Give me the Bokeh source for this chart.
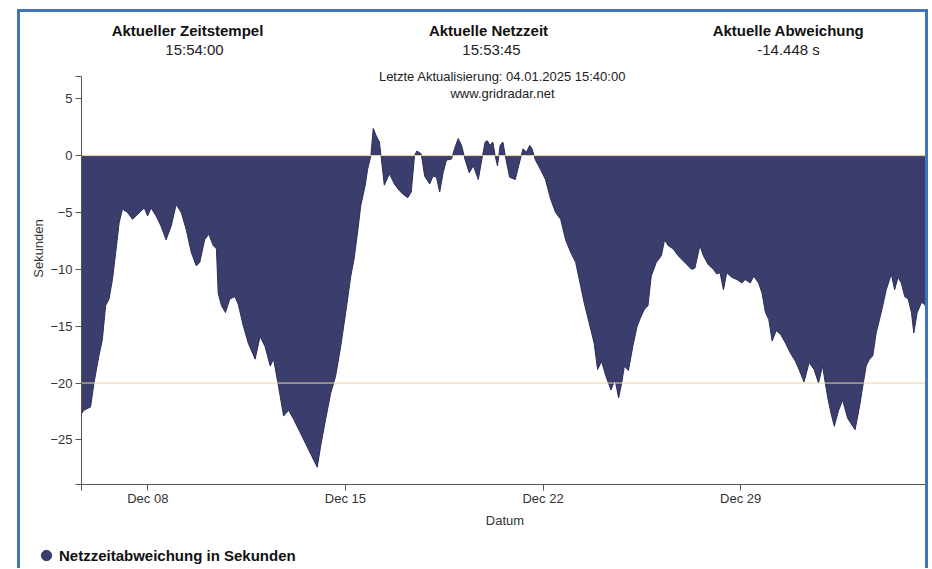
import pandas as pd
from bokeh.plotting import figure
from bokeh.layouts import column
from bokeh.models import (Range1d, FixedTicker, DatetimeTickFormatter, Label, Span,
                          Legend, LegendItem, ColumnDataSource)
from bokeh.embed import file_html
from bokeh.resources import INLINE

# ---------------- data ----------------
START = "2024-12-05 15:40"
END = "2025-01-04 15:40"

# hours after START
hours = [
    0, 2.0, 7.7, 10.6, 14.8, 17.7, 20.5, 23.4, 26.3, 29.1, 32.0, 34.8, 39.1, 43.4,
    46.2, 50.5, 53.4, 56.2, 59.1, 63.4, 67.6, 71.9, 76.2, 80.5, 84.8, 89.0, 93.3,
    97.6, 100.5, 104.7, 108.2, 111.9, 114.7, 116.2, 119.0, 122.4, 126.1, 130.4,
    133.3, 137.6, 141.8, 147.6, 151.8, 156.1, 160.4, 163.3, 167.5, 171.8, 176.1,
    180.4, 184.7, 190.4, 196.1, 200.4, 203.2, 207.5, 211.8, 216.0, 220.3, 224.6,
    228.9, 231.7, 234.6, 237.4, 241.2, 243.2, 246.0, 248.0, 250.3, 253.2, 254.6,
    257.4, 261.7, 266.0, 270.3, 274.6, 277.4, 280.3, 283.1, 285.1, 288.8, 291.7,
    296.0, 298.8, 301.7, 304.5, 307.4, 310.2, 314.5, 317.4, 320.2, 323.1, 325.9,
    329.6, 333.1, 337.3, 340.2, 343.1, 345.0, 347.3, 349.6, 351.6, 353.6, 355.9,
    358.2, 360.2, 363.9, 368.7, 371.6, 375.3, 378.2, 381.0, 383.0, 385.9, 390.1,
    394.4, 398.7, 403.0, 407.3, 411.5, 415.8, 420.1, 424.4, 427.2, 431.5, 435.8,
    438.7, 442.1, 445.8, 450.1, 453.5, 456.6, 459.2, 461.5, 464.9, 468.6, 472.3,
    475.8, 478.6, 481.5, 484.3, 488.6, 492.9, 495.7, 498.6, 502.9, 507.2, 512.9,
    518.6, 521.4, 525.7, 528.6, 532.8, 537.1, 540.0, 542.8, 545.7, 548.5, 552.8,
    557.1, 561.4, 564.2, 568.5, 571.4, 575.6, 578.5, 581.4, 584.2, 587.1, 590.5,
    594.2, 598.5, 602.8, 607.0, 609.9, 614.2, 618.5, 622.7, 626.5, 629.9, 634.2,
    637.0, 639.9, 643.6, 647.0, 651.3, 655.0, 657.6, 661.3, 664.1, 667.0, 669.8,
    672.7, 675.5, 679.8, 684.1, 688.4, 691.2, 694.1, 696.9, 699.8, 702.7, 705.5,
    707.5, 710.4, 714.1, 716.9, 719.8, 720.0,
]

# grid time deviation in seconds
seconds = [
    -22.7, -22.4, -22.1, -20.0, -17.6, -16.2, -13.2, -12.6, -10.9, -8.5, -5.9, -4.7, -5.0, -5.6,
    -5.3, -4.9, -4.6, -5.3, -4.6, -5.3, -6.2, -7.4, -6.2, -4.3, -5.0, -6.5, -8.5,
    -9.7, -9.4, -7.4, -6.9, -7.9, -8.2, -12.1, -13.2, -13.8, -12.6, -12.4,
    -13.1, -15.0, -16.5, -17.9, -15.9, -16.8, -18.5, -17.9, -20.3, -22.9, -22.4,
    -23.2, -24.1, -25.3, -26.5, -27.4, -25.6, -23.2, -20.9, -19.4, -16.8, -13.8,
    -10.6, -9.1, -6.8, -4.4, -2.6, -1.2, 0.0, 2.4, 1.8, 1.2, 0.0,
    -2.6, -1.6, -2.5, -3.1, -3.5, -3.7, -3.2, 0.0, 0.4, 0.15, -1.8,
    -2.5, -1.8, -1.9, -3.2, -1.5, -0.4, -0.3, 0.7, 1.5, 0.9, -0.3,
    -1.5, -0.9, -2.1, -0.4, 1.2, 1.3, 0.9, 1.2, 0.0, -0.9, 0.9,
    1.2, 0.0, -1.9, -2.1, -0.9, 0.6, 0.3, 0.9, 0.6, -0.4, -1.2,
    -2.1, -3.8, -5.0, -5.6, -7.4, -8.5, -9.4, -11.5, -12.9, -14.7, -16.5,
    -18.8, -18.1, -19.4, -20.6, -19.7, -21.3, -20.0, -18.5, -18.9, -16.8, -15.0,
    -14.1, -13.5, -13.2, -10.6, -9.4, -8.8, -7.4, -7.9, -8.2, -8.8, -9.4,
    -10.0, -9.9, -7.9, -8.8, -9.6, -10.0, -10.4, -10.3, -11.8, -10.3, -10.7,
    -10.9, -11.2, -10.9, -11.2, -10.6, -11.2, -12.1, -13.8, -14.4, -16.3, -15.4,
    -15.7, -16.5, -17.4, -18.1, -18.8, -19.9, -18.2, -18.8, -20.0, -18.5, -21.2,
    -22.6, -23.8, -22.4, -21.5, -23.1, -23.7, -24.1, -22.1, -20.3, -18.5, -17.9,
    -17.6, -15.6, -13.8, -11.8, -10.4, -11.8, -10.7, -11.2, -12.4, -12.6, -13.8,
    -15.6, -13.8, -12.9, -13.1, -14.1, -14.4,
]

x_tick_dates = ["2024-12-08", "2024-12-15", "2024-12-22", "2024-12-29"]
y_tick_values = [5, 0, -5, -10, -15, -20, -25]
y_limits = (-28.92, 6.92)
ref_levels = [0, -20]

header_titles = ["Aktueller Zeitstempel", "Aktuelle Netzzeit", "Aktuelle Abweichung"]
header_values = ["15:54:00", "15:53:45", "-14.448 s"]
update_text = "Letzte Aktualisierung: 04.01.2025 15:40:00"
site_text = "www.gridradar.net"
series_name = "Netzzeitabweichung in Sekunden"
x_label = "Datum"
y_label = "Sekunden"

# ---------------- styles / layout ----------------
FONT = "Liberation Sans"
NAVY = "#3b3e6c"
EDGE = "#2b2e5a"
REF = "#e8d3a6"
AXIS = "#555555"
FRAME_BLUE = "#4074b8"
BORDER = f"3px solid {FRAME_BLUE}"

AXIS_PX = 405          # pixel height of the y-axis span
HEADER_PX = 64         # extra frame space above the y-axis for header texts
px_per_unit = AXIS_PX / (y_limits[1] - y_limits[0])
y_top = y_limits[1] + HEADER_PX / px_per_unit

t0 = pd.Timestamp(START)
t1 = pd.Timestamp(END)
times = [t0 + pd.Timedelta(hours=h) for h in hours]
src = ColumnDataSource(dict(t=times, v=seconds))


def ms(ts):
    return pd.Timestamp(ts).value / 1e6


p = figure(
    width=911, height=527,
    x_axis_type="datetime",
    x_range=Range1d(t0, t1),
    y_range=Range1d(y_limits[0], y_top),
    output_backend="svg", toolbar_location=None,
    min_border_left=61, min_border_right=3, min_border_top=0, min_border_bottom=55,
    styles={"margin-left": "17px", "margin-top": "9px",
            "border-top": BORDER, "border-left": BORDER, "border-right": BORDER},
)
p.frame_align = False
p.outline_line_color = None
p.xgrid.visible = False
p.ygrid.visible = False
p.background_fill_color = "white"
p.border_fill_color = "white"

p.varea(x="t", y1=0, y2="v", source=src, fill_color=NAVY)
p.line(x="t", y="v", source=src, line_color=EDGE, line_width=1)

for lvl in ref_levels:
    p.add_layout(Span(location=lvl, dimension="width", line_color=REF, line_width=1))

# axes
x_ticks = [ms(t0)] + [ms(d) for d in x_tick_dates] + [ms(t1)]
p.xaxis.ticker = FixedTicker(ticks=x_ticks)
fmt = "%b %d"
p.xaxis.formatter = DatetimeTickFormatter(
    microseconds=fmt, milliseconds=fmt, seconds=fmt, minsec=fmt, minutes=fmt,
    hourmin=fmt, hours=fmt, days=fmt, months=fmt, years=fmt)
p.xaxis.major_label_overrides = {ms(t0): "", ms(t1): ""}

y_ticks = [y_limits[1]] + y_tick_values + [y_limits[0]]
p.yaxis.ticker = FixedTicker(ticks=y_ticks)
p.yaxis.major_label_overrides = {y_limits[1]: "", y_limits[0]: ""}
p.yaxis.bounds = y_limits

for ax in (p.xaxis, p.yaxis):
    ax.axis_line_color = AXIS
    ax.major_tick_line_color = AXIS
    ax.minor_tick_line_color = None
    ax.major_tick_in = 0
    ax.major_tick_out = 6
    ax.major_label_text_font = FONT
    ax.major_label_text_font_size = "13px"
    ax.major_label_text_color = "#333333"
    ax.axis_label_text_font = FONT
    ax.axis_label_text_font_size = "13px"
    ax.axis_label_text_font_style = "normal"
    ax.axis_label_text_color = "#333333"

p.xaxis.major_label_standoff = 0
p.yaxis.major_label_standoff = 3
p.xaxis.axis_label = x_label
p.xaxis.axis_label_standoff = 4
p.yaxis.axis_label = y_label
p.yaxis.axis_label_standoff = 1

# header texts (screen units relative to plot frame's bottom-left, y up)
title_pos = [(106, 454), (113, 435.5)]
title_pos = [(106, 454), (407, 454), (707, 454)]
value_pos = [(113, 435.5), (410, 435.5), (707, 435.5)]
for (x, y), txt in zip(title_pos, header_titles):
    p.add_layout(Label(x=x, y=y, x_units="screen", y_units="screen", text=txt,
                       text_align="center", text_baseline="middle", text_font=FONT,
                       text_font_size="15px", text_font_style="bold", text_color="#111111"))
for (x, y), txt in zip(value_pos, header_values):
    p.add_layout(Label(x=x, y=y, x_units="screen", y_units="screen", text=txt,
                       text_align="center", text_baseline="middle", text_font=FONT,
                       text_font_size="15px", text_color="#222222"))
for (x, y), txt in zip([(421, 408), (421, 391)], [update_text, site_text]):
    p.add_layout(Label(x=x, y=y, x_units="screen", y_units="screen", text=txt,
                       text_align="center", text_baseline="middle", text_font=FONT,
                       text_font_size="13px", text_color="#222222"))

# legend strip below the chart
q = figure(
    width=911, height=32, output_backend="svg", toolbar_location=None,
    x_axis_location=None, y_axis_location=None,
    x_range=Range1d(0, 1), y_range=Range1d(0, 1),
    min_border_left=0, min_border_right=0, min_border_top=0, min_border_bottom=0,
    styles={"margin-left": "17px", "border-left": BORDER, "border-right": BORDER},
)
q.frame_align = False
q.outline_line_color = None
q.xgrid.visible = False
q.ygrid.visible = False
q.border_fill_color = "white"
# legend proxy (kept outside the visible range; only its legend swatch shows)
dot = q.scatter(x=[-5], y=[-5], marker="circle", size=10, fill_color=NAVY, line_color=NAVY)
legend = Legend(items=[LegendItem(label=series_name, renderers=[dot])],
                location=(13, 0), orientation="horizontal",
                padding=0, margin=0, spacing=0, glyph_width=26, glyph_height=26,
                label_standoff=0, label_text_font=FONT, label_text_font_size="15px",
                label_text_font_style="bold", label_text_color="#111111",
                border_line_alpha=0, background_fill_alpha=0)
q.add_layout(legend)

layout = column(p, q, spacing=0)
open("out.html", "w").write(file_html(layout, INLINE))
